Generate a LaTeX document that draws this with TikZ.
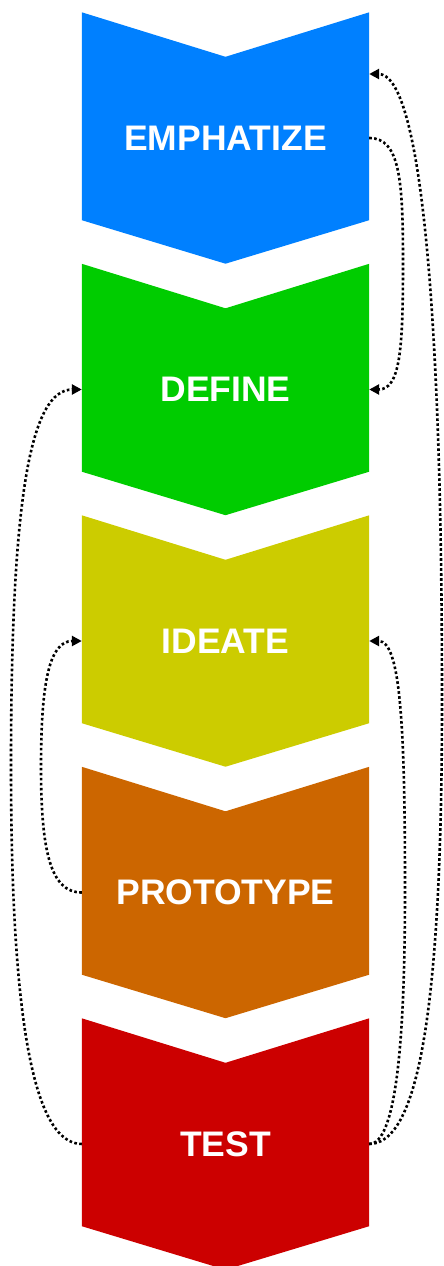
\documentclass[tikz,border=0pt]{standalone}
\usepackage{fontspec}
\setmainfont{Liberation Sans}
\usetikzlibrary{calc,arrows.meta}
\definecolor{cblue}{RGB}{0,128,255}
\definecolor{cgreen}{RGB}{0,204,0}
\definecolor{cyellow}{RGB}{204,204,0}
\definecolor{corange}{RGB}{204,102,0}
\definecolor{cred}{RGB}{204,0,0}
\tikzset{
  stage/.style={minimum width=287pt, minimum height=251pt, inner sep=0pt,
    text=white, font=\fontsize{35.5}{40}\selectfont\bfseries},
  loop/.style={black, line width=2.6pt, dash pattern=on 2.6pt off 2.4pt,
    -{Triangle[length=10pt,width=10pt]}},
}
\newcommand{\chev}[2]{%
  \fill[#2] (#1.north west) -- ($(#1.north)+(0,44.5)$) -- (#1.north east)
    -- ($(#1.south east)+(0,-43.5)$) -- (#1.south) -- ($(#1.south west)+(0,-43.5)$) -- cycle;}
\begin{document}
\begin{tikzpicture}[x=1pt,y=-1pt]
\useasboundingbox (0,0) rectangle (444,1266);
\node[stage] (emp) at (225.5,138) {};
\node[stage] (def) at (225.5,389.5) {};
\node[stage] (ide) at (225.5,641) {};
\node[stage] (pro) at (225.5,892.5) {};
\node[stage] (tes) at (225.5,1144) {};
\chev{emp}{cblue}
\chev{def}{cgreen}
\chev{ide}{cyellow}
\chev{pro}{corange}
\chev{tes}{cred}
\node[stage] at (emp.center) {EMPHATIZE};
\node[stage] at (def.center) {DEFINE};
\node[stage] at (ide.center) {IDEATE};
\node[stage] at (pro.center) {PROTOTYPE};
\node[stage] at (tes.center) {TEST};
\coordinate (empin) at ($(emp.east)+(0,-64)$);
% TEST -> EMPHATIZE (right, outer)
\draw[loop] (tes.east) .. controls (420,1144) and (442,1000) .. (442,700)
  .. controls (442,300) and (420,74) .. (empin);
% EMPHATIZE -> DEFINE (right)
\draw[loop] (emp.east) .. controls (400,138) and (403,180) .. (403,264)
  .. controls (403,350) and (400,389.5) .. (def.east);
% TEST -> IDEATE (right, inner)
\draw[loop] (tes.east) .. controls (395,1144) and (405,1050) .. (405,890)
  .. controls (405,720) and (400,641) .. (ide.east);
% TEST -> DEFINE (left, outer)
\draw[loop] (tes.west) .. controls (30,1144) and (11,1000) .. (11,765)
  .. controls (11,500) and (30,389.5) .. (def.west);
% PROTOTYPE -> IDEATE (left)
\draw[loop] (pro.west) .. controls (50,892.5) and (41,850) .. (41,766)
  .. controls (41,680) and (50,641) .. (ide.west);
\end{tikzpicture}
\end{document}
